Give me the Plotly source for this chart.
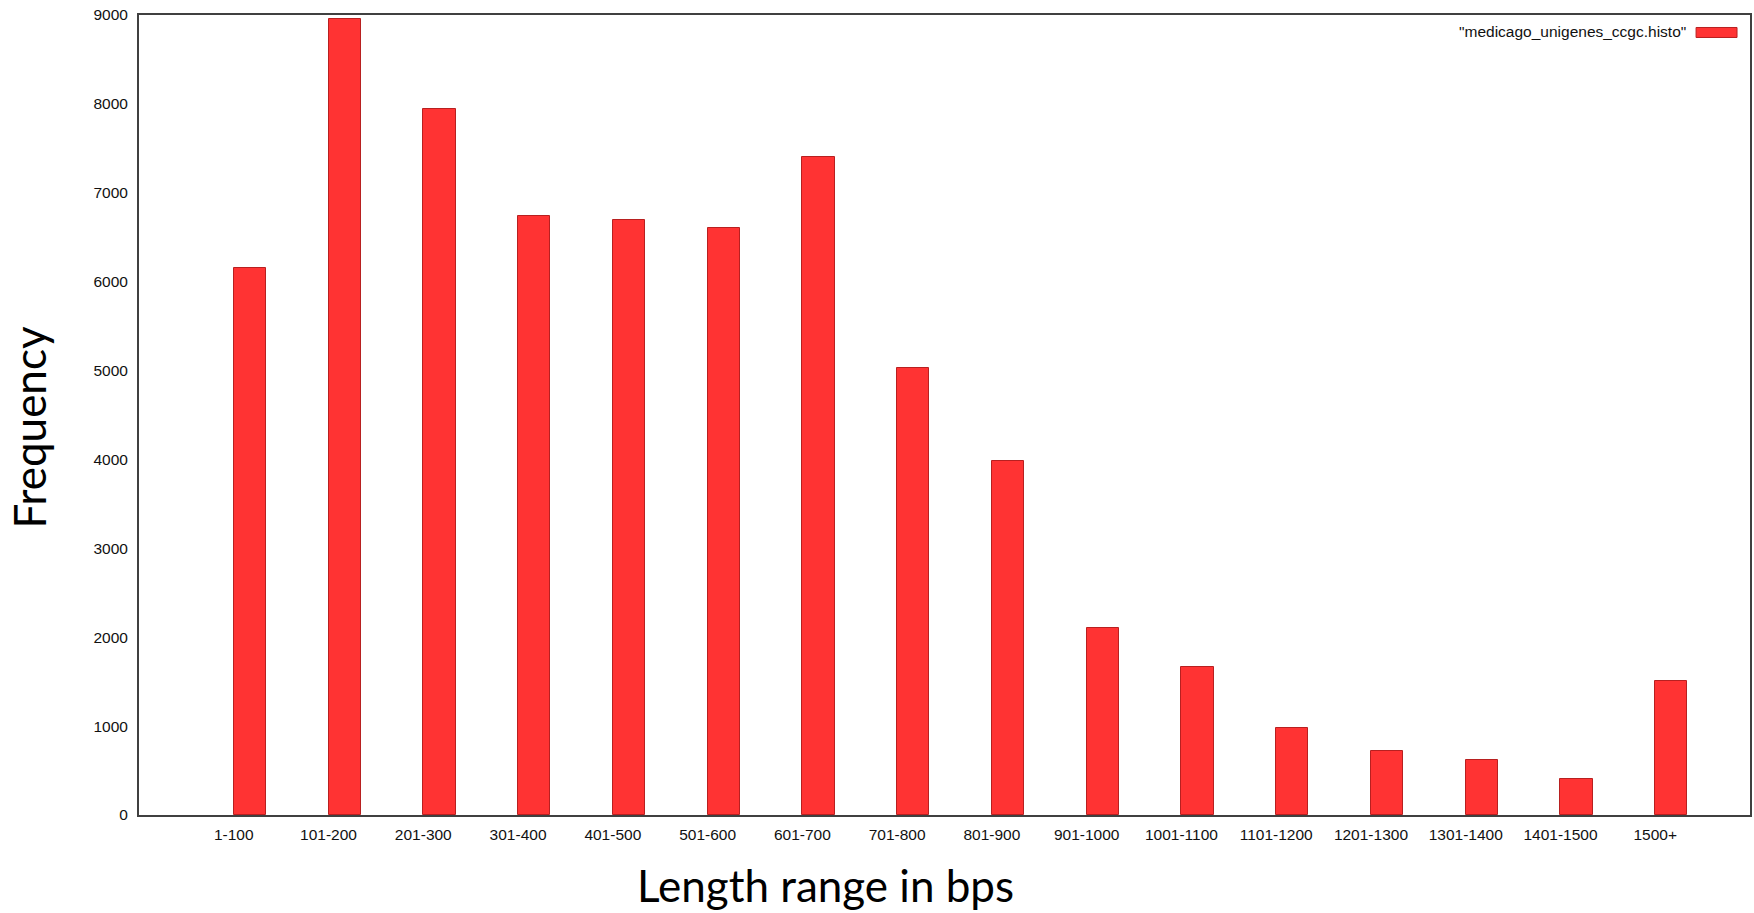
import plotly.graph_objects as go

categories = ["1-100", "101-200", "201-300", "301-400", "401-500", "501-600",
              "601-700", "701-800", "801-900", "901-1000", "1001-1100",
              "1101-1200", "1201-1300", "1301-1400", "1401-1500", "1500+"]
frequency = [6150, 8950, 7940, 6735, 6690, 6600, 7405, 5025, 3985, 2100,
             1670, 980, 715, 615, 400, 1505]
series_name = '"medicago_unigenes_ccgc.histo"'
y_ticks = [0, 1000, 2000, 3000, 4000, 5000, 6000, 7000, 8000, 9000]

W, H = 1754, 913
L, R, T, B = 139, 1752, 14.5, 815

def px(x):
    return (x - L) / (R - L)

def py(y):
    return (B - y) / (B - T)

fig = go.Figure()
fig.add_trace(go.Bar(
    x=categories, y=frequency, name=series_name,
    offset=0, width=0.34,
    marker=dict(color="#ff3333", line=dict(color="#b82020", width=1)),
    showlegend=False,
))

fig.update_layout(
    width=W, height=H,
    margin=dict(l=L, r=W - R, t=T, b=H - B, pad=0),
    paper_bgcolor="white", plot_bgcolor="white",
    font=dict(family="Liberation Sans, Arial, sans-serif", size=15.5, color="#111"),
    bargap=0,
)
fig.update_xaxes(
    type="category", range=[-1, 16],
    showline=True, mirror=True, linecolor="#404040", linewidth=2,
    showgrid=False, zeroline=False, ticks="",
    tickfont=dict(size=15.5, color="#111"), ticklabelstandoff=4,
)
fig.update_yaxes(
    range=[0, 9000], tickvals=y_ticks,
    showline=True, mirror=True, linecolor="#404040", linewidth=2,
    showgrid=False, zeroline=False, ticks="",
    tickfont=dict(size=15.5, color="#111"), ticklabelstandoff=6,
)

# axis titles
fig.add_annotation(text="Length range in bps", xref="paper", yref="paper",
                   x=px(826), y=py(885), xanchor="center", yanchor="middle",
                   showarrow=False, font=dict(family="Lato, sans-serif", size=44, color="black"))
fig.add_annotation(text="Frequency", xref="paper", yref="paper",
                   x=px(29), y=py(427), xanchor="center", yanchor="middle", textangle=-90,
                   showarrow=False, font=dict(family="Lato, sans-serif", size=44, color="black"))

# legend (gnuplot style: text then swatch on the right)
fig.add_annotation(text=series_name, xref="paper", yref="paper",
                   x=px(1690), y=py(31), xanchor="right", yanchor="middle",
                   showarrow=False, font=dict(size=15.5, color="#111"))
fig.add_shape(type="rect", xref="paper", yref="paper",
              x0=px(1698), x1=px(1739), y0=py(37), y1=py(27),
              fillcolor="#ff3333", line=dict(color="#b82020", width=1))

fig.write_html("out.html", config={"displayModeBar": False},
               post_script="document.body.style.margin='0';document.body.style.overflow='hidden';")
